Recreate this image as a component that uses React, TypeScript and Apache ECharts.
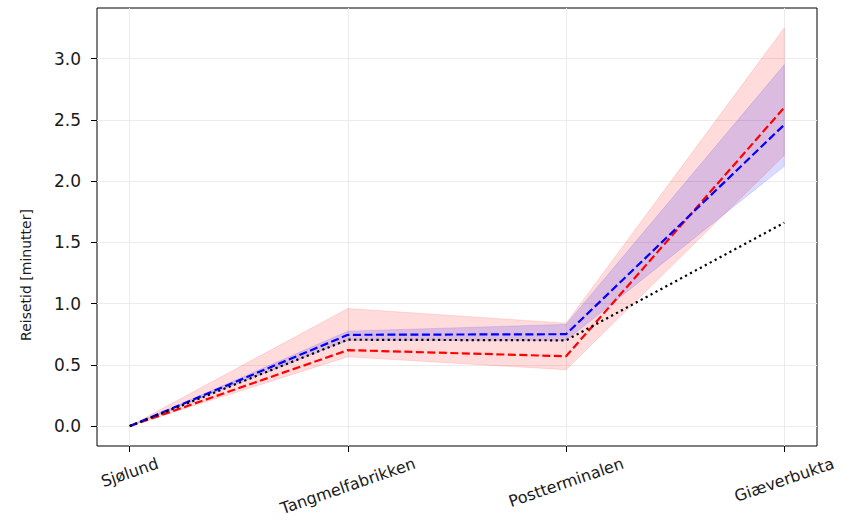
import { useEffect, useRef } from 'react';
import * as echarts from 'echarts';

// Stops along the route
const stops = ['Sjølund', 'Tangmelfabrikken', 'Postterminalen', 'Giæverbukta'];

// Travel time (minutes): mean and spread for the two measured variants
const redMean = [0, 0.62, 0.57, 2.6];
const redLow = [0, 0.565, 0.46, 2.21];
const redHigh = [0, 0.96, 0.84, 3.25];
const blueMean = [0, 0.745, 0.75, 2.46];
const blueLow = [0, 0.7, 0.7, 2.12];
const blueHigh = [0, 0.775, 0.83, 2.95];
// Reference travel time
const refTime = [0, 0.705, 0.7, 1.66];

const yTicks = [0, 0.5, 1, 1.5, 2, 2.5, 3];
const xTicks = [0, 1, 2, 3];

const FONT = '"DejaVu Sans", sans-serif';
const TICK_FS = 17;
const XLABEL_FS = 16;
const YNAME_FS = 14;
const LABEL_ANGLE = (19 * Math.PI) / 180;

const pts = (vals: number[]) => vals.map((v, i) => [i, v]);

// Shaded spread between a lower and an upper curve
function bandSeries(lo: number[], hi: number[], fill: string, edge: string) {
  return {
    type: 'custom',
    data: [[0, 0]],
    encode: { x: 0, y: 1 },
    silent: true,
    z: 1,
    renderItem: (_params: any, api: any) => {
      const upper = hi.map((v, i) => api.coord([i, v]));
      const lower = lo.map((v, i) => api.coord([i, v])).reverse();
      return {
        type: 'polygon',
        shape: { points: [...upper, ...lower] },
        style: { fill, stroke: edge, lineWidth: 1 },
      };
    },
  };
}

export default function App() {
  const ref = useRef<HTMLDivElement>(null);

  useEffect(() => {
    if (!ref.current) return;
    const chart = echarts.init(ref.current, undefined, { renderer: 'svg' });

    chart.setOption({
      animation: false,
      backgroundColor: '#ffffff',
      grid: {
        left: 97,
        right: 25,
        top: 8,
        bottom: 83,
        show: true,
        borderColor: '#000',
        borderWidth: 1,
        backgroundColor: 'transparent',
      },
      xAxis: {
        type: 'value',
        min: -0.15,
        max: 3.15,
        axisLine: { show: false, onZero: false },
        axisTick: {
          show: true,
          length: 6,
          lineStyle: { color: '#000', width: 1 },
          customValues: xTicks,
        },
        axisLabel: { show: false, customValues: xTicks },
        splitLine: { show: true, lineStyle: { color: '#ebebeb', width: 1 } },
      },
      yAxis: {
        type: 'value',
        min: -0.1625,
        max: 3.4125,
        axisLine: { show: false, onZero: false },
        axisTick: {
          show: true,
          length: 6,
          lineStyle: { color: '#000', width: 1 },
          customValues: yTicks,
        },
        axisLabel: {
          customValues: yTicks,
          formatter: (v: number) => v.toFixed(1),
          fontFamily: FONT,
          fontSize: TICK_FS,
          color: '#1a1a1a',
          margin: 16,
        },
        splitLine: { show: true, lineStyle: { color: '#ebebeb', width: 1 } },
      },
      series: [
        bandSeries(redLow, redHigh, 'rgba(255,0,0,0.14)', 'rgba(255,0,0,0.12)'),
        bandSeries(blueLow, blueHigh, 'rgba(0,0,255,0.14)', 'rgba(0,0,255,0.12)'),
        {
          type: 'line',
          data: pts(redMean),
          symbol: 'none',
          lineStyle: { color: '#ff0000', width: 2.2, type: [8, 3.5] },
          z: 3,
        },
        {
          type: 'line',
          data: pts(blueMean),
          symbol: 'none',
          lineStyle: { color: '#0000ff', width: 2.2, type: [8, 3.5] },
          z: 3,
        },
        {
          type: 'line',
          data: pts(refTime),
          symbol: 'none',
          lineStyle: { color: '#000', width: 2.2, type: [2.2, 3.4] },
          z: 4,
        },
      ],
    });

    // Rotated category labels, each centred under its tick
    const ctx = document.createElement('canvas').getContext('2d')!;
    ctx.font = `${XLABEL_FS}px ${FONT}`;
    const lineH = XLABEL_FS * 1.17;
    const labelTop = 454;
    const labels = stops.map((s, i) => {
      const w = ctx.measureText(s).width;
      const px = chart.convertToPixel({ xAxisIndex: 0 }, i) as number;
      const bh = w * Math.sin(LABEL_ANGLE) + lineH * Math.cos(LABEL_ANGLE);
      return {
        type: 'text',
        x: px,
        y: labelTop + bh / 2,
        rotation: LABEL_ANGLE,
        style: {
          text: s,
          fontFamily: FONT,
          fontSize: XLABEL_FS,
          fill: '#1a1a1a',
          align: 'center',
          verticalAlign: 'middle',
        },
        silent: true,
      };
    });

    chart.setOption({
      graphic: [
        ...labels,
        {
          type: 'text',
          x: 26,
          y: 275,
          rotation: Math.PI / 2,
          style: {
            text: 'Reisetid [minutter]',
            fontFamily: FONT,
            fontSize: YNAME_FS,
            fill: '#1a1a1a',
            align: 'center',
            verticalAlign: 'middle',
          },
          silent: true,
        },
      ],
    });

    return () => chart.dispose();
  }, []);

  return (
    <div
      ref={ref}
      style={{ position: 'fixed', left: 0, top: 0, width: 842, height: 529 }}
    />
  );
}
